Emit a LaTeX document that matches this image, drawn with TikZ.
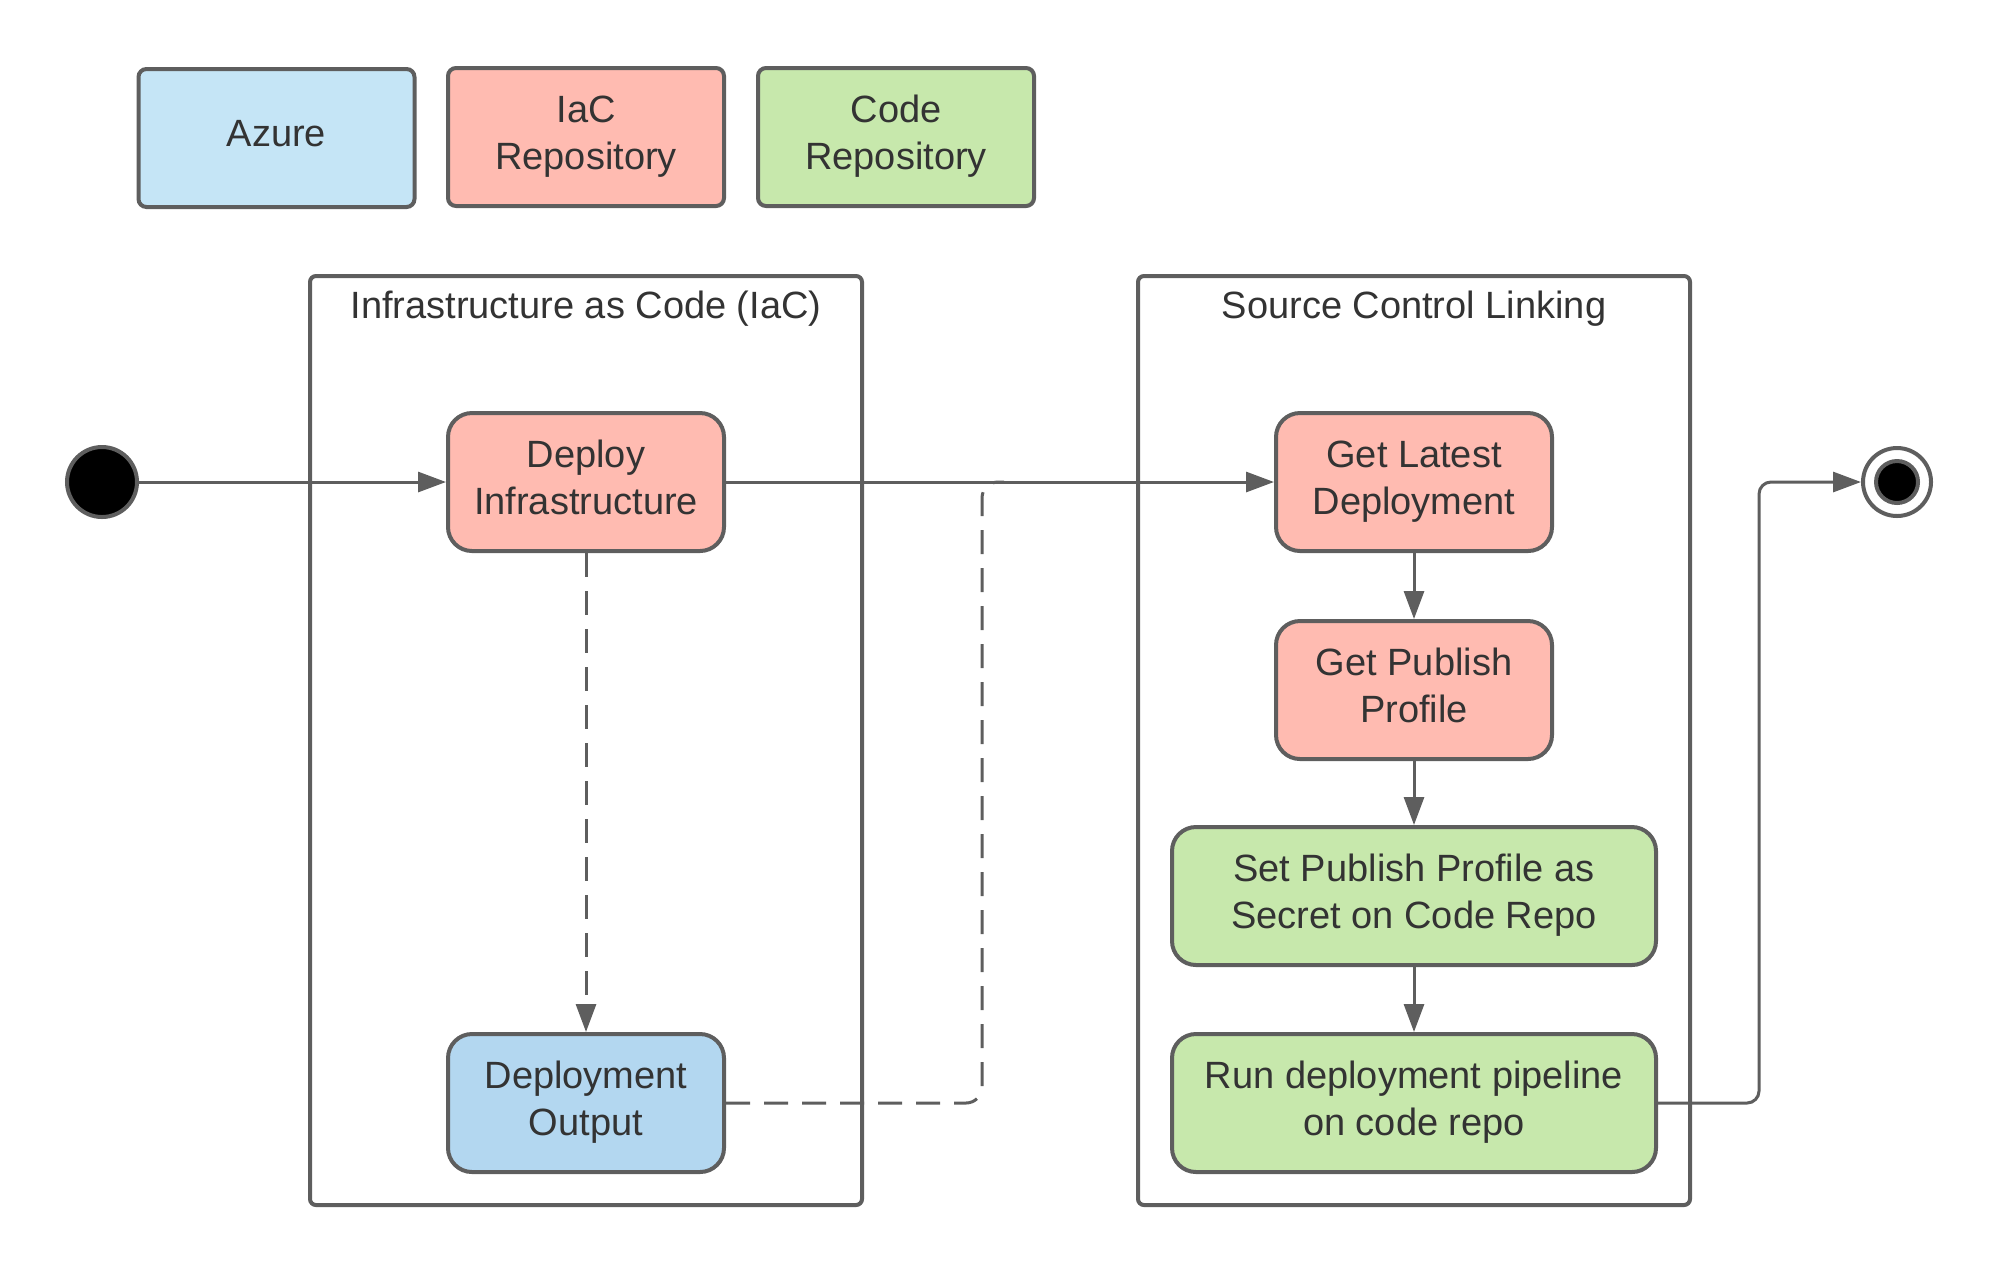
\documentclass[tikz,border=0pt]{standalone}
\usepackage{fontspec}
\setmainfont{Liberation Sans}
\usetikzlibrary{arrows.meta}
\definecolor{bord}{HTML}{5E5E5E}
\definecolor{txt}{HTML}{333333}
\definecolor{azlight}{HTML}{C5E5F6}
\definecolor{azblue}{HTML}{B3D7F0}
\definecolor{iacpink}{HTML}{FFBBB1}
\definecolor{codegreen}{HTML}{C7E8AC}
\begin{document}
\begin{tikzpicture}[x=0.5pt,y=-0.5pt,
  font=\fontsize{19}{23.5}\selectfont, text=txt,
  box/.style={draw=bord, line width=2pt, rounded corners=12pt, minimum width=138pt, minimum height=69pt, align=center, inner sep=0pt, text depth=4.5pt},
  widebox/.style={box, minimum width=242pt},
  legend/.style={draw=bord, line width=2pt, rounded corners=4pt, minimum width=138pt, minimum height=69pt, align=center, inner sep=0pt, text depth=4.5pt},
  container/.style={draw=bord, line width=2pt, rounded corners=3pt, minimum width=276pt, minimum height=464.5pt, inner sep=0pt},
  flow/.style={draw=bord, line width=1.5pt, -{Triangle[length=14pt,width=10pt]}},
  dashflow/.style={draw=bord, line width=1.5pt, dash pattern=on 12pt off 7pt},
  link/.style={draw=bord, line width=1.5pt}
]
\useasboundingbox (0,0) rectangle (2000,1276);
% legend
\node[legend, fill=azlight] (lazure) at (276.5,138) {Azure};
\node[legend, fill=iacpink] (liac) at (586,137) {IaC\\Repository};
\node[legend, fill=codegreen] (lcode) at (896,137) {Code\\Repository};
% containers
\node[container] (iac) at (586,740.5) {};
\node (iactitle) at (586,309) {Infrastructure as Code (IaC)};
\node[container] (scl) at (1414,740.5) {};
\node (scltitle) at (1414,309) {Source Control Linking};
% start / end
\node[circle, fill=black, draw=bord, line width=2pt, minimum size=35pt, inner sep=0pt] (start) at (102,482) {};
\node[circle, fill=white, draw=bord, line width=2pt, minimum size=34pt, inner sep=0pt] (endo) at (1897,482) {};
\node[circle, fill=black, draw=bord, line width=2pt, minimum size=21pt, inner sep=0pt] (endi) at (1897,482) {};
% activities
\node[box, fill=iacpink] (deploy) at (586,482) {Deploy\\Infrastructure};
\node[box, fill=azblue] (output) at (586,1103) {Deployment\\Output};
\node[box, fill=iacpink] (latest) at (1414,482) {Get Latest\\Deployment};
\node[box, fill=iacpink] (profile) at (1414,690) {Get Publish\\Profile};
\node[widebox, fill=codegreen] (secret) at (1414,896) {Set Publish Profile as\\Secret on Code Repo};
\node[widebox, fill=codegreen] (run) at (1414,1103) {Run deployment pipeline\\on code repo};
% connectors
\coordinate (dj) at (982,482);
\coordinate (dk) at (1004,482);
\coordinate (ej) at (1759,482);
\draw[flow] (start) -- (deploy);
\draw[flow] (deploy) -- (latest);
\draw[dashflow, -{Triangle[length=14pt,width=10pt]}] (deploy) -- (output);
\draw[dashflow, rounded corners=8pt] (output.east) -| (dj) -- (dk);
\draw[flow] (latest) -- (profile);
\draw[flow] (profile) -- (secret);
\draw[flow] (secret) -- (run);
\draw[flow, rounded corners=6pt] (run.east) -| (ej) -- (endo.west);
\end{tikzpicture}
\end{document}
